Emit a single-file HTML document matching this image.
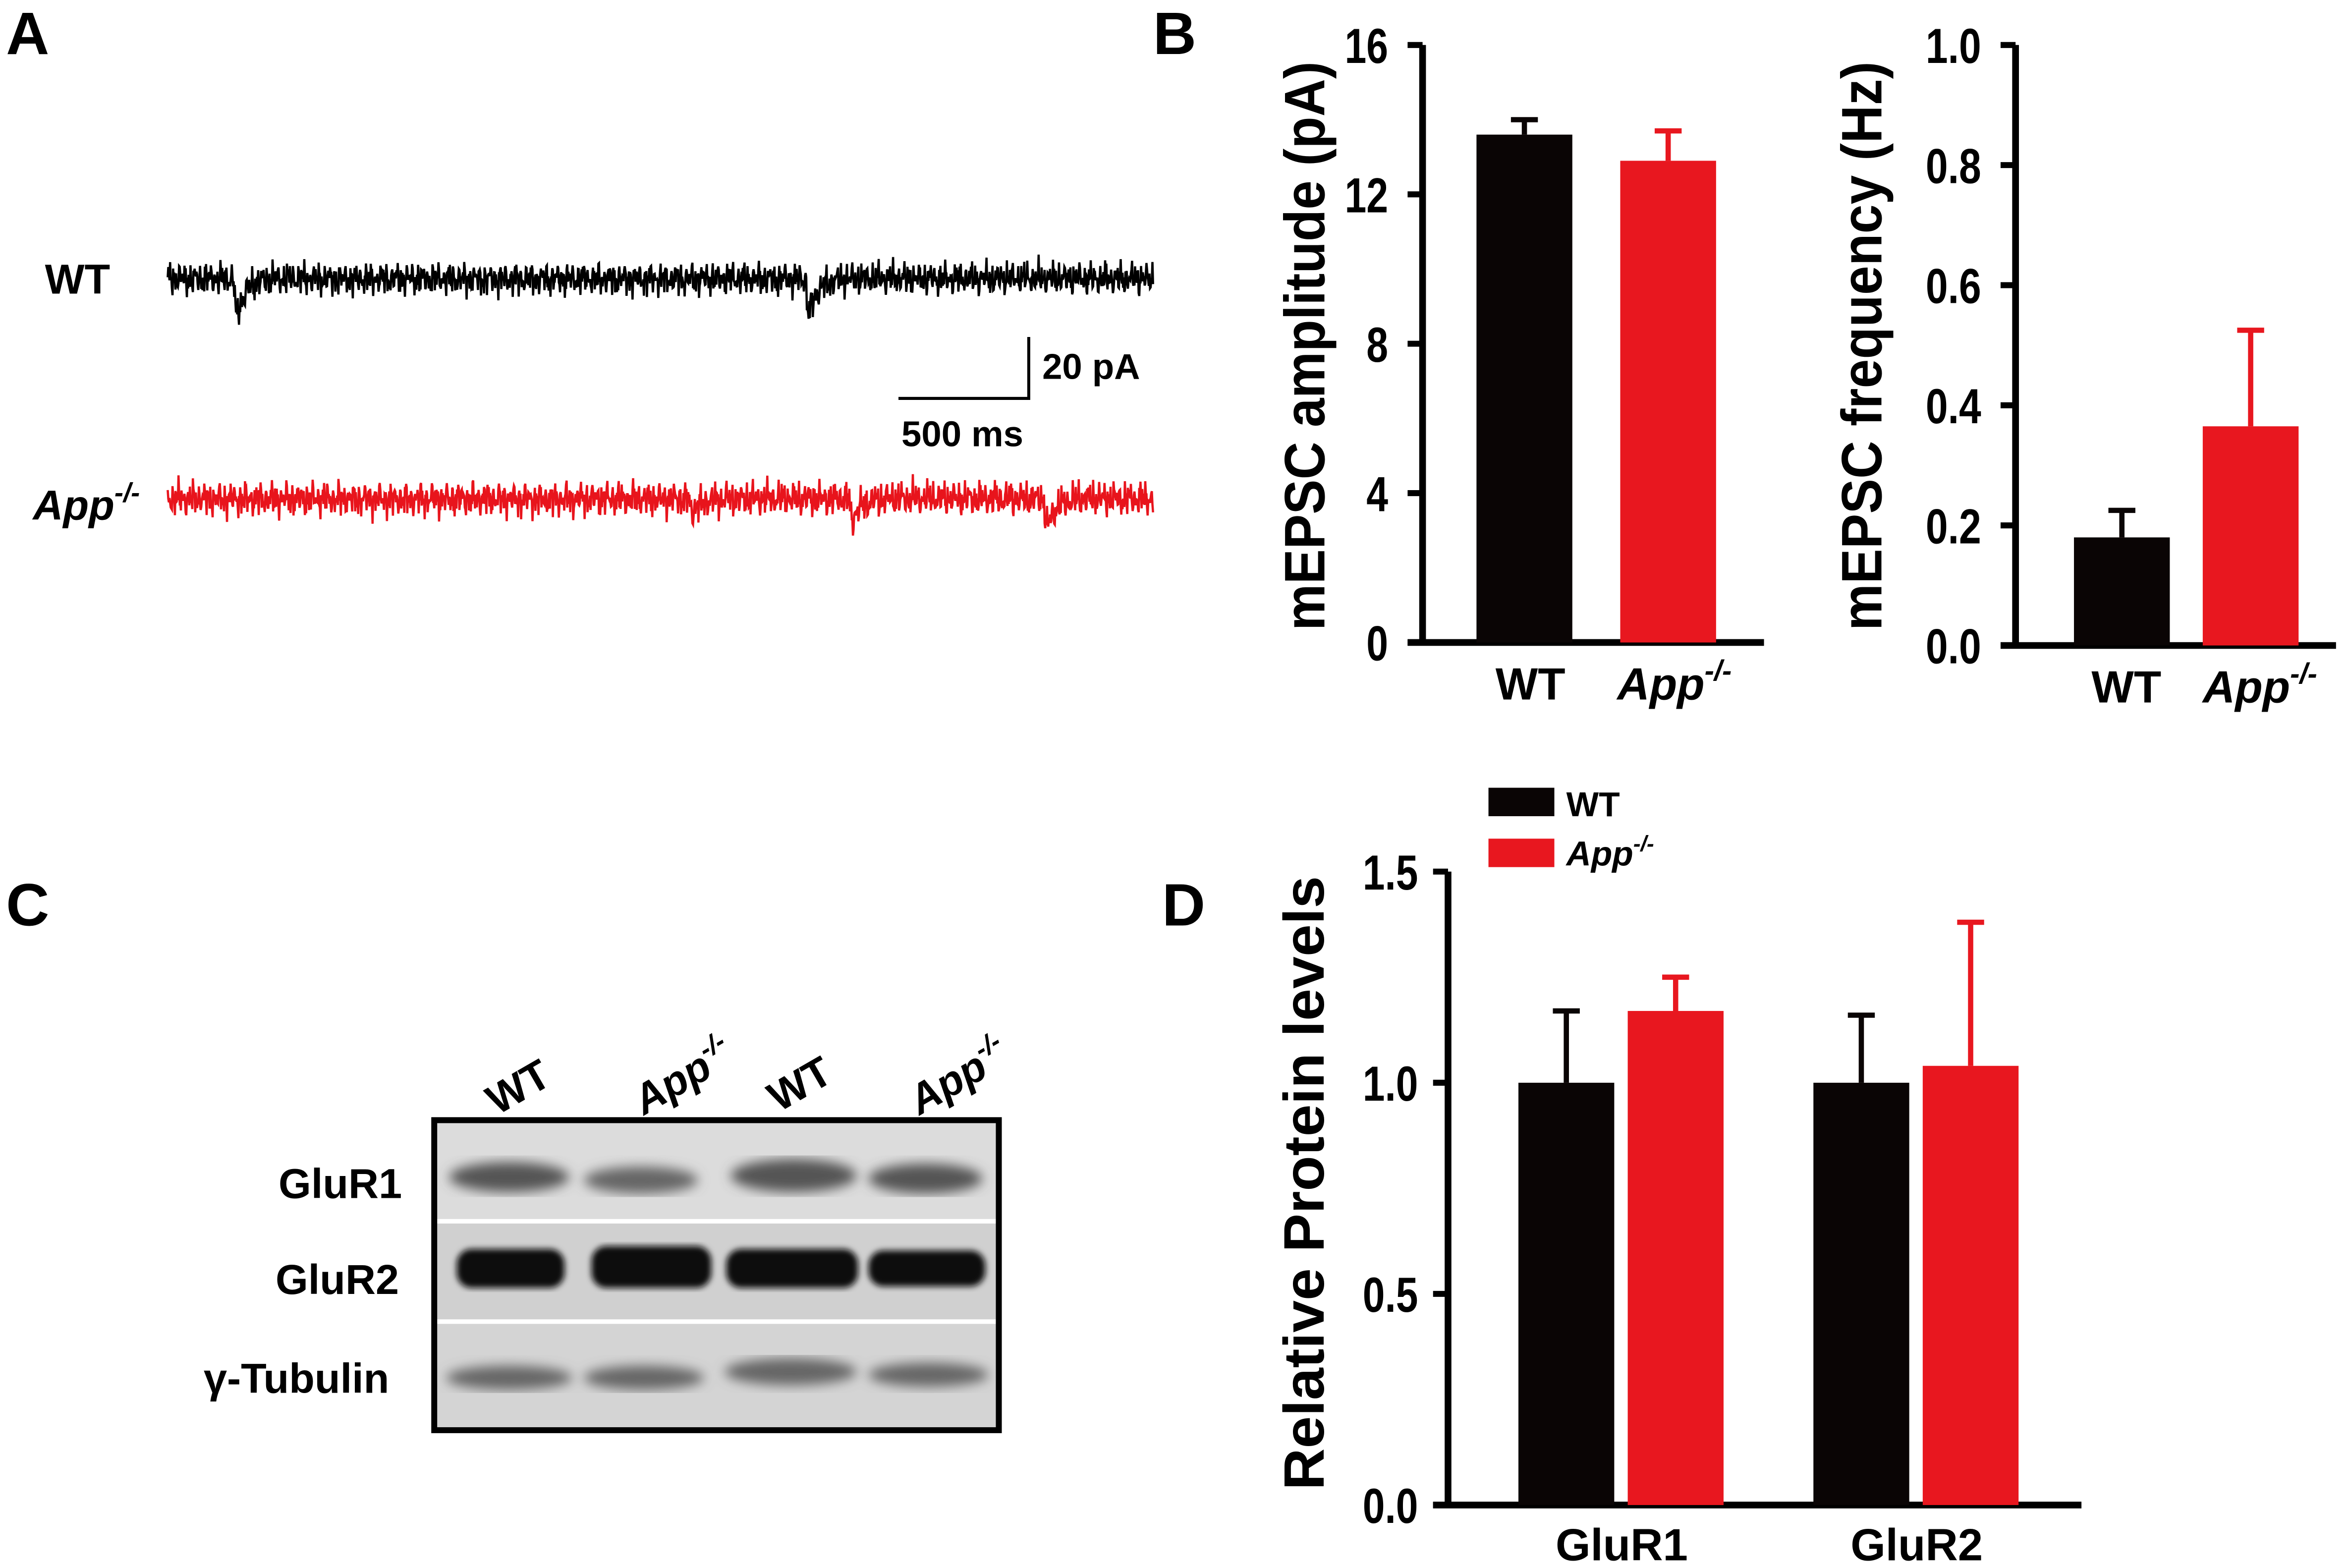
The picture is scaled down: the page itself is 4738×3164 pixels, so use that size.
<!DOCTYPE html>
<html><head><meta charset="utf-8"><style>
html,body{margin:0;padding:0;background:#fff}
svg{display:block}
text{font-family:"Liberation Sans",Arial,sans-serif;font-weight:bold}
</style></head><body>
<svg id="fig" width="4738" height="3164" viewBox="0 0 1568 1047" xmlns="http://www.w3.org/2000/svg">
<defs>
<filter id="blur1"><feGaussianBlur stdDeviation="4"/></filter>
<filter id="blur2"><feGaussianBlur stdDeviation="2"/></filter>
</defs>
<text x="4" y="36" font-size="40">A</text>
<text x="770" y="36" font-size="40">B</text>
<text x="4" y="618" font-size="40">C</text>
<text x="776" y="618" font-size="40">D</text>

<text x="30" y="196" font-size="28">WT</text>
<text x="22" y="347" font-size="28" font-style="italic">App<tspan font-size="18" dy="-12">-/-</tspan></text>
<path id="traceWT" fill="none" stroke="#000" stroke-width="1.5"/>
<path id="traceAPP" fill="none" stroke="#e8141c" stroke-width="1.5"/>
<g stroke="#000" stroke-width="2" fill="none">
<path d="M600 266 H687 V225"/>
</g>
<text x="696" y="253" font-size="24">20 pA</text>
<text x="602" y="298" font-size="24">500 ms</text>

<g id="chartB1"></g>
<g id="chartB2"></g>
<g id="chartD"></g>

<g>
<rect x="290" y="748" width="377" height="207" fill="#d8d8d8" stroke="#000" stroke-width="4"/>
<rect x="292" y="750" width="373" height="64" fill="#dcdcdc"/>
<rect x="292" y="817" width="373" height="64" fill="#d0d0d0"/>
<rect x="292" y="884" width="373" height="69" fill="#d4d4d4"/>
<line x1="292" y1="815.5" x2="665" y2="815.5" stroke="#fff" stroke-width="3"/>
<line x1="292" y1="882.5" x2="665" y2="882.5" stroke="#fff" stroke-width="3"/>
<g filter="url(#blur1)" fill="#555">
<ellipse cx="340" cy="786" rx="40" ry="10"/><ellipse cx="428" cy="788" rx="38" ry="9" fill="#666"/>
<ellipse cx="530" cy="785" rx="42" ry="11"/><ellipse cx="618" cy="787" rx="38" ry="10"/>
</g>
<g filter="url(#blur2)" fill="#0e0e0e">
<rect x="305" y="834" width="72" height="26" rx="10"/><rect x="395" y="832" width="80" height="28" rx="10"/>
<rect x="485" y="834" width="88" height="26" rx="10"/><rect x="580" y="835" width="78" height="24" rx="10"/>
</g>
<g filter="url(#blur1)" fill="#666">
<ellipse cx="340" cy="920" rx="42" ry="8"/><ellipse cx="430" cy="920" rx="40" ry="8"/>
<ellipse cx="528" cy="916" rx="44" ry="9"/><ellipse cx="620" cy="918" rx="40" ry="8"/>
</g>
</g>
<text x="186" y="800" font-size="28">GluR1</text>
<text x="184" y="864" font-size="28">GluR2</text>
<text x="136" y="930" font-size="28">γ-Tubulin</text>
<text transform="translate(332,745) rotate(-30)" font-size="28">WT</text>
<text transform="translate(430,745) rotate(-30)" font-size="28" font-style="italic">App<tspan font-size="18" dy="-12">-/-</tspan></text>
<text transform="translate(520,743) rotate(-30)" font-size="28">WT</text>
<text transform="translate(614,745) rotate(-30)" font-size="28" font-style="italic">App<tspan font-size="18" dy="-12">-/-</tspan></text>
</svg>
<script>
const NS='http://www.w3.org/2000/svg';
const ampGroups=['WT','App'];
const ampValues=[13.6,12.9];
const ampErrors=[0.4,0.8];
const ampTicks=['0','4','8','12','16'];
const freqValues=[0.18,0.365];
const freqErrors=[0.045,0.16];
const freqTicks=['0.0','0.2','0.4','0.6','0.8','1.0'];
const protCategories=['GluR1','GluR2'];
const protWT=[1.0,1.0];
const protWTErr=[0.17,0.16];
const protAPP=[1.17,1.04];
const protAPPErr=[0.08,0.34];
const protTicks=['0.0','0.5','1.0','1.5'];
const colors=['#0a0505','#e8171f'];

function el(tag,attrs,parent){const e=document.createElementNS(NS,tag);for(const k in attrs)e.setAttribute(k,attrs[k]);parent.appendChild(e);return e;}
function txt(s,attrs,parent){const e=el('text',attrs,parent);e.textContent=s;return e;}
function appLabel(x,y,size,parent,anchor){const t=el('text',{x:x,y:y,'font-size':size,'font-style':'italic','text-anchor':anchor||'start'},parent);t.appendChild(document.createTextNode('App'));const ts=document.createElementNS(NS,'tspan');ts.setAttribute('font-size',size*0.64);ts.setAttribute('dy',-size*0.42);ts.textContent='-/-';t.appendChild(ts);return t;}

function axis(g,x0,x1,yTop,yBot,vmax,ticks,gap){
  const y=v=>yBot-(v/vmax)*(yBot-yTop);
  const ax=el('path',{d:`M${x0} ${yTop} V${yBot} M${x0-10} ${yBot} H${x1}`,stroke:'#000','stroke-width':4.5,fill:'none'},g);
  
  ticks.forEach(t=>{const v=parseFloat(t);
    el('line',{x1:x0-10,x2:x0,y1:y(v),y2:y(v),stroke:'#000','stroke-width':4},g);
    const w=t.replace('.','').length*14.5+(t.includes('.')?8:0);
    const l=txt(t,{x:x0-gap-w,y:y(v)+12,'font-size':33,textLength:w,lengthAdjust:'spacingAndGlyphs'},g);
    
  });
  return y;
}
function bar(g,x,w,val,err,y,color,name){
  const r=el('rect',{x:x,y:y(val),width:w,height:y(0)-y(val),fill:color},g);
  
  const e=el('path',{d:`M${x+w/2} ${y(val)} V${y(val+err)} M${x+w/2-9} ${y(val+err)} H${x+w/2+9}`,stroke:color,'stroke-width':3.5,fill:'none'},g);
  
}
function title(g,s,x,yc,len){
  const t=txt(s,{transform:`translate(${x},${yc}) rotate(-90)`,'font-size':38,'text-anchor':'middle',textLength:len,lengthAdjust:'spacingAndGlyphs'},g);
  
}
(function(){const g=document.getElementById('chartB1');
  const y=axis(g,950,1178,30,429,16,ampTicks,23);
  const xs=[986,1082];
  ampValues.forEach((v,i)=>bar(g,xs[i],64,v,ampErrors[i],y,colors[i],'amp-bar-'+ampGroups[i].toLowerCase()));
  const a=txt('WT',{x:1022,y:467,'font-size':30,'text-anchor':'middle'},g);
  const b=appLabel(1080,467,30,g);
  title(g,'mEPSC amplitude (pA)',884.5,231,380);
})();
(function(){const g=document.getElementById('chartB2');
  const y=axis(g,1346,1560,30,431,1,freqTicks,23);
  const xs=[1385,1471];
  freqValues.forEach((v,i)=>bar(g,xs[i],64,v,freqErrors[i],y,colors[i],'freq-bar-'+ampGroups[i].toLowerCase()));
  const a=txt('WT',{x:1420,y:469,'font-size':30,'text-anchor':'middle'},g);
  const b=appLabel(1471,469,30,g);
  title(g,'mEPSC frequency (Hz)',1256.5,231,380);
})();
(function(){const g=document.getElementById('chartD');
  const y=axis(g,967,1390,582,1005,1.5,protTicks,20);
  const base=[1014,1211];
  protCategories.forEach((c,i)=>{
    bar(g,base[i],64,protWT[i],protWTErr[i],y,colors[0],'wt-bar-'+c.toLowerCase());
    bar(g,base[i]+73,64,protAPP[i],protAPPErr[i],y,colors[1],'app-bar-'+c.toLowerCase());
    const l=txt(c,{x:base[i]+69,y:1042,'font-size':30,'text-anchor':'middle'},g);
  });
  title(g,'Relative Protein levels',884,790,410);
  const r1=el('rect',{x:994,y:526,width:44,height:19,fill:colors[0]},g);
  const r2=el('rect',{x:994,y:560,width:44,height:19,fill:colors[1]},g);
  const l1=txt('WT',{x:1046,y:545,'font-size':23},g);
  const l2=appLabel(1046,578,23,g);
})();
function noise(i,s){return Math.sin(i*1.7+s)*0.45+Math.sin(i*3.13+s*2)*0.35+Math.sin(i*7.31+s*3)*0.45+Math.sin(i*11.7+s*5)*0.35+Math.sin(i*0.37+s)*0.25;}
function trace(id,y0,amp,events,s){
  let d='';for(let x=112;x<=770;x+=0.4){let v=noise(x*1.9,s)*amp;
    events.forEach(e=>{const dx=x-e[0];if(dx>=0&&dx<25)v+=e[1]*Math.exp(-dx/6)*(dx<2?dx/2:1);});
    d+=(d?'L':'M')+x.toFixed(1)+' '+(y0+v).toFixed(1);}
  document.getElementById(id).setAttribute('d',d);
}
trace('traceWT',186,9,[[156,36],[538,34]],1);
trace('traceAPP',333,9.5,[[460,12],[567,20],[697,28]],2.5);
</script>
</body></html>
